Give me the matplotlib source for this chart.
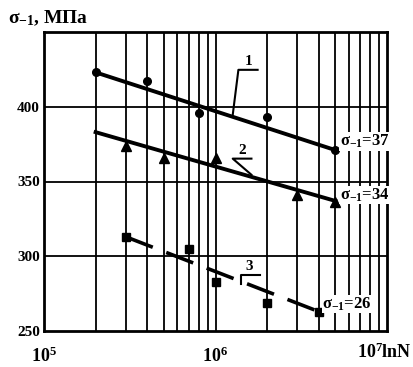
import matplotlib
matplotlib.use("Agg")
import matplotlib.pyplot as plt
from matplotlib.ticker import FixedLocator, NullLocator

plt.rcParams['font.family'] = ['Liberation Serif', 'DejaVu Serif']
plt.rcParams['mathtext.fontset'] = 'custom'
plt.rcParams['mathtext.rm'] = 'Liberation Serif:bold'
plt.rcParams['mathtext.it'] = 'Liberation Serif:bold'
plt.rcParams['mathtext.bf'] = 'Liberation Serif:bold'

# ---- data ----
# Series 1 (circles)
n1 = [2e5, 4e5, 8e5, 2e6, 5e6]
s1 = [423, 417, 396, 393, 371]
fit1_n = [2e5, 5e6]
fit1_s = [423, 371]
# Series 2 (triangles)
n2 = [3e5, 5e5, 1e6, 3e6, 5e6]
s2 = [374, 366, 366, 341, 336]
fit2_n = [2e5, 5e6]
fit2_s = [383, 337]
# Series 3 (squares, dashed)
n3 = [3e5, 7e5, 1e6, 2e6, 4e6]
s3 = [313, 305, 283, 269, 263]
fit3_n = [3e5, 4e6]
fit3_s = [313, 263]

end_labels = [r"$\sigma_{-1}$=37", r"$\sigma_{-1}$=34", r"$\sigma_{-1}$=26"]
y_ticks = [250, 300, 350, 400]
x_major = [1e5, 1e6, 1e7]
x_labels = [r"$10^5$", r"$10^6$"]

fig = plt.figure(figsize=(4.13, 3.67), dpi=100)
ax = fig.add_axes([44/413, 1-331/367, (387-44)/413, (331-32)/367])
ax.set_xscale('log')
ax.set_xlim(1e5, 1e7)
ax.set_ylim(250, 450)

# grid
minor = [m * d for d in (1e5, 1e6) for m in range(2, 10)] + [1e6]
for xv in minor:
    ax.axvline(xv, color='black', lw=1.3, zorder=1)
for yv in [300, 350, 400]:
    ax.axhline(yv, color='black', lw=1.3, zorder=1)

for sp in ax.spines.values():
    sp.set_linewidth(2)

ax.xaxis.set_major_locator(FixedLocator(x_major[:2]))
ax.xaxis.set_minor_locator(NullLocator())
ax.set_xticklabels(x_labels)
ax.set_yticks(y_ticks)
ax.set_yticklabels([str(v) for v in y_ticks])
ax.tick_params(axis='y', length=0, labelsize=11, pad=3)
for t in ax.get_yticklabels():
    t.set_fontweight('bold')
ax.tick_params(axis='x', length=0, labelsize=13, pad=11)
ax.text(412/413, 1-352/367, r"$10^7$lnN", transform=fig.transFigure,
        ha='right', va='center', fontsize=13, fontweight='bold')

# fit lines
ax.plot(fit1_n, fit1_s, color='black', lw=2.8, zorder=3)
ax.plot(fit2_n, fit2_s, color='black', lw=2.8, zorder=3)
ax.plot(fit3_n, fit3_s, color='black', lw=2.6, ls=(0, (8, 4)), zorder=3)

# points
ax.plot(n1, s1, 'o', color='black', ms=5.5, zorder=4)
ax.plot(n2, s2, '^', color='black', ms=6.5, zorder=4)
ax.plot(n3, s3, 's', color='black', ms=6, zorder=4)

# end labels
bbox = dict(facecolor='white', edgecolor='none', pad=0.5)
for xv, yv, lab in [(5.3e6, 377, end_labels[0]), (5.3e6, 341, end_labels[1]),
                    (4.2e6, 268, end_labels[2])]:
    ax.text(xv, yv, lab, fontsize=12, fontweight='bold', va='center', ha='left',
            bbox=bbox, zorder=5)

# curve number callouts
kw = dict(color='black', lw=1.5, zorder=4)
ax.plot([1.76e6, 1.36e6, 1.26e6], [424.7, 424.7, 394.5], **kw)
ax.text(1.56e6, 426, "1", fontsize=11, fontweight='bold', ha='center', va='bottom', zorder=5)
ax.plot([1.62e6, 1.26e6, 1.62e6], [365.3, 365.3, 354.5], **kw)
ax.text(1.44e6, 366.5, "2", fontsize=11, fontweight='bold', ha='center', va='bottom', zorder=5)
ax.plot([1.81e6, 1.4e6, 1.4e6], [287.3, 287.3, 281.5], **kw)
ax.text(1.58e6, 288.5, "3", fontsize=11, fontweight='bold', ha='center', va='bottom', zorder=5)

# y axis title
fig.text(8/413, 1-18/367, r"$\sigma_{-1}$, МПа", fontsize=14, fontweight='bold',
         ha='left', va='center')

fig.savefig("out.png", dpi=100)
